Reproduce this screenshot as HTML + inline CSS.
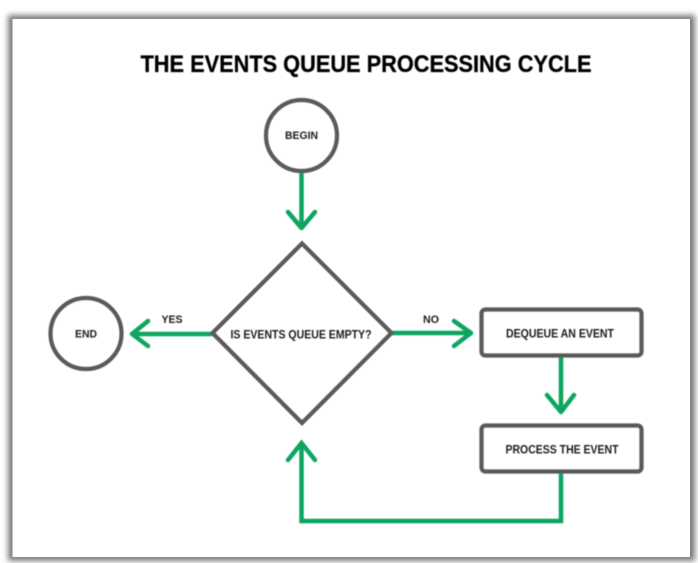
<!DOCTYPE html>
<html><head><meta charset="utf-8"><style>
html,body{margin:0;padding:0;background:#fff}
svg{display:block}
text{font-family:"Liberation Sans",sans-serif;font-weight:700;fill:#1c1c1c;text-anchor:middle}
</style></head><body>
<svg width="698" height="563" viewBox="0 0 698 563" xmlns="http://www.w3.org/2000/svg">
<defs>
<filter id="s" x="-5%" y="-5%" width="110%" height="110%"><feGaussianBlur stdDeviation="3"/></filter>
<filter id="b" x="-2%" y="-2%" width="104%" height="104%"><feGaussianBlur stdDeviation="0.45"/></filter>
</defs>
<rect width="698" height="563" fill="#fff"/>
<rect x="8" y="15" width="687" height="546" fill="#7a7a7a" filter="url(#s)"/>
<rect x="12.5" y="19" width="677.5" height="538" fill="#fff"/>
<g filter="url(#b)">
<text x="366" y="72" font-size="24" style="fill:#000;stroke:#000;stroke-width:.3" textLength="451" lengthAdjust="spacingAndGlyphs">THE EVENTS QUEUE PROCESSING CYCLE</text>
<g fill="none" stroke="#0aa661" stroke-width="4.5" stroke-linecap="round" stroke-linejoin="round">
<path d="M212 334H132M148 321L132 334L148 346"/>
<path d="M392 333H471M454 321L471 333L454 346"/>
<path d="M301.5 173V228M288 212L301.5 228L315 212"/>
<path d="M561 357V412M547 395L561 412L574 395"/>
<path d="M561 473V521H301.5V443M288 460L301.5 443L315 460" stroke-linejoin="miter"/>
</g>
<g fill="none" stroke="#5a5a5a" stroke-width="4.2">
<circle cx="301.5" cy="135.5" r="35.5"/>
<circle cx="86" cy="333.5" r="35.5"/>
<polygon points="302,243.5 391.5,333 302,423 212.5,333" stroke-linejoin="miter"/>
<rect x="481.5" y="309.5" width="160" height="46" rx="4"/>
<rect x="481.5" y="425.5" width="160" height="46" rx="4"/>
</g>
<text x="301.5" y="139" font-size="11" textLength="33" lengthAdjust="spacingAndGlyphs">BEGIN</text>
<text x="86" y="337.5" font-size="11" textLength="22" lengthAdjust="spacingAndGlyphs">END</text>
<text x="172" y="323" font-size="11" textLength="21" lengthAdjust="spacingAndGlyphs">YES</text>
<text x="431" y="323" font-size="11" textLength="16" lengthAdjust="spacingAndGlyphs">NO</text>
<text x="301" y="338.5" font-size="11.5" textLength="141" lengthAdjust="spacingAndGlyphs">IS EVENTS QUEUE EMPTY?</text>
<text x="560" y="337.5" font-size="11.5" textLength="108" lengthAdjust="spacingAndGlyphs">DEQUEUE AN EVENT</text>
<text x="562" y="453.5" font-size="11.5" textLength="113" lengthAdjust="spacingAndGlyphs">PROCESS THE EVENT</text>
</g>
</svg>
</body></html>
